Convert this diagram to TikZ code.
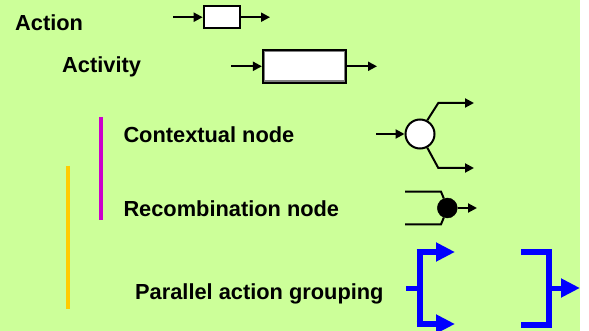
\documentclass[tikz,border=0pt]{standalone}
\usepackage{fontspec}
\setmainfont{Liberation Sans}
\usetikzlibrary{arrows.meta}
\definecolor{bggreen}{HTML}{CCFF99}
\definecolor{barmagenta}{HTML}{CC00CC}
\definecolor{barorange}{HTML}{FFCC00}
\definecolor{grpblue}{HTML}{0000FF}
\tikzset{
  label/.style={anchor=base west, inner sep=0pt, font=\fontsize{21.8}{26}\selectfont\bfseries},
  flow/.style={draw=black, line width=2pt, -{Triangle[length=9pt,width=9pt]}},
  plain/.style={draw=black, line width=2pt},
  actbox/.style={draw=black, fill=white, line width=2pt, inner sep=0pt},
  grp/.style={draw=grpblue, line width=6pt, line cap=butt, line join=miter},
  grparrow/.style={draw=grpblue, line width=5pt, -{Triangle[length=19pt,width=18pt]}},
  bar/.style={line width=3.5pt}
}
\begin{document}
\begin{tikzpicture}[x=1pt, y=-1pt]
  \useasboundingbox (0,0) rectangle (589,331);
  \fill[white] (0,0) rectangle (589,331);
  \fill[bggreen] (0,0) rectangle (580,331);

  % labels
  \node[label] (lAction) at (15,31) {Action};
  \node[label] (lActivity) at (62,73) {Activity};
  \node[label] (lCtx) at (123.3,142.7) {Contextual node};
  \node[label] (lRec) at (123.3,216.7) {Recombination node};
  \node[label] (lPar) at (135,299.3) {Parallel action grouping};

  % side bars
  \draw[bar, barmagenta] (101,117) -- (101,220);
  \draw[bar, barorange] (68,166) -- (68,309);

  % action
  \node[actbox, minimum width=36pt, minimum height=22pt] (act) at (221.7,17.2) {};
  \coordinate (actIn) at (173,17.2);
  \coordinate (actOut) at (270,17.2);
  \draw[flow] (actIn) -- (act.west);
  \draw[flow] (act.east) -- (actOut);

  % activity
  \node[draw=black, fill=white, line width=2.2pt, minimum width=83pt, minimum height=33pt, inner sep=0pt] (acty) at (304.5,66.3) {};
  \draw[draw=gray, line width=1.4pt] ([shift={(2.8,-2.8)}]acty.south west) rectangle ([shift={(-2.8,2.8)}]acty.north east);
  \coordinate (actyIn) at (231,66.3);
  \coordinate (actyOut) at (377,66.3);
  \draw[flow] (actyIn) -- (acty.west);
  \draw[flow] (acty.east) -- (actyOut);

  % contextual node
  \node[circle, draw=black, fill=white, line width=2pt, minimum size=29pt, inner sep=0pt] (ctx) at (420,134) {};
  \coordinate (ctxIn) at (376,134);
  \coordinate (ctxUp) at (438.3,103);
  \coordinate (ctxUpOut) at (474,103);
  \coordinate (ctxDn) at (438.3,168);
  \coordinate (ctxDnOut) at (474,168);
  \draw[flow] (ctxIn) -- (ctx.west);
  \draw[flow] (ctx.62) -- (ctxUp) -- (ctxUpOut);
  \draw[flow] (ctx.-62) -- (ctxDn) -- (ctxDnOut);

  % recombination node
  \node[circle, draw=black, fill=black, minimum size=20pt, inner sep=0pt] (rec) at (447.3,208) {};
  \coordinate (recInA) at (405,191.7);
  \coordinate (recBendA) at (441,191.7);
  \coordinate (recInB) at (405,224.3);
  \coordinate (recBendB) at (441,224.3);
  \coordinate (recOut) at (477,208);
  \draw[plain] (recInA) -- (recBendA) -- (rec.110);
  \draw[plain] (recInB) -- (recBendB) -- (rec.250);
  \draw[flow] (rec.east) -- (recOut);

  % parallel action grouping: fork
  \coordinate (forkIn) at (406,288.3);
  \coordinate (forkMid) at (419.7,288.3);
  \coordinate (forkTop) at (419.7,252);
  \coordinate (forkBot) at (419.7,324);
  \coordinate (forkTopTip) at (455,252);
  \coordinate (forkBotTip) at (455,324);
  \draw[grp] (forkTop) -- (forkBot);
  \draw[draw=grpblue, line width=5pt] (forkIn) -- (forkMid);
  \draw[grparrow, line width=6pt] ([xshift=-3pt]forkTop) -- (forkTopTip);
  \draw[grparrow, line width=6pt] ([xshift=-3pt]forkBot) -- (forkBotTip);

  % parallel action grouping: join
  \coordinate (joinTopEnd) at (521,252);
  \coordinate (joinBotEnd) at (521,324.5);
  \coordinate (joinTop) at (549,252);
  \coordinate (joinBot) at (549,324.5);
  \coordinate (joinMid) at (549,288);
  \coordinate (joinOut) at (580,288);
  \draw[grp] (joinTopEnd) -- (joinTop) -- (joinBot) -- (joinBotEnd);
  \draw[grparrow] (joinMid) -- (joinOut);
\end{tikzpicture}
\end{document}
